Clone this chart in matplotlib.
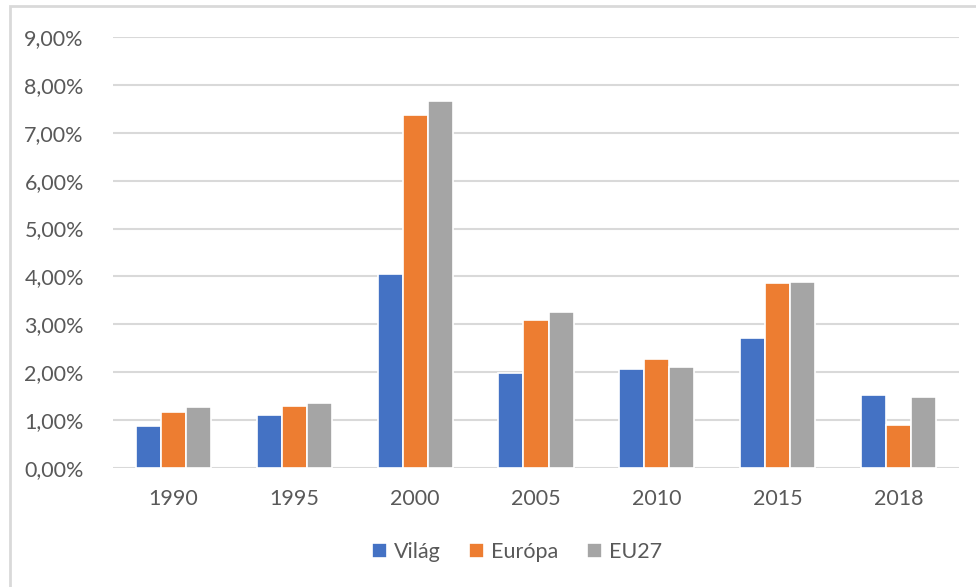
import matplotlib
matplotlib.use('Agg')
from matplotlib import pyplot as plt
from matplotlib.patches import Rectangle
from matplotlib.ticker import FuncFormatter
import numpy as np

years = ['1990', '1995', '2000', '2005', '2010', '2015', '2018']
vilag = [0.88, 1.10, 4.05, 1.98, 2.06, 2.71, 1.52]
europa = [1.16, 1.29, 7.37, 3.09, 2.27, 3.86, 0.89]
eu27 = [1.27, 1.36, 7.67, 3.26, 2.11, 3.88, 1.49]

series = [('Világ', vilag, '#4472C4'),
          ('Európa', europa, '#ED7D31'),
          ('EU27', eu27, '#A5A5A5')]

plt.rcParams['font.family'] = ['Lato', 'DejaVu Sans']
text_color = '#595959'

fig = plt.figure(figsize=(9.76, 5.87), dpi=100)
ax = fig.add_axes([113 / 976, 1 - 468 / 587, (959 - 113) / 976, (468 - 37) / 587])

# chart area border (cut off at right and bottom in the reference)
fig.patches.append(Rectangle((10 / 976, -0.1), 1.2, 1.1 - 6 / 587,
                             transform=fig.transFigure, fill=False,
                             edgecolor='#D9D9D9', linewidth=2))

x = np.arange(len(years))
w = 0.207
for i, (name, vals, col) in enumerate(series):
    ax.bar(x + (i - 1) * w, vals, width=w, color=col, edgecolor='white',
           linewidth=1.2, label=name, zorder=3)

ax.set_xlim(-0.5, len(years) - 0.5)
ax.set_ylim(0, 9)
ax.set_yticks(np.arange(0, 10, 1))
ax.yaxis.set_major_formatter(FuncFormatter(lambda v, p: ('%.2f%%' % v).replace('.', ',')))
ax.set_xticks(x)
ax.set_xticklabels(years)
ax.grid(axis='y', color='#D9D9D9', linewidth=1.5, zorder=0)
for s in ax.spines.values():
    s.set_visible(False)
ax.tick_params(length=0, labelsize=15.5, colors=text_color)
ax.tick_params(axis='y', pad=21)
ax.tick_params(axis='x', pad=15)

leg = fig.legend(loc='center', bbox_to_anchor=(517 / 976, 1 - 552 / 587), ncol=3,
                 frameon=False, fontsize=15.5, handlelength=0.7, handleheight=0.7,
                 handletextpad=0.35, columnspacing=1.3)
for t in leg.get_texts():
    t.set_color(text_color)

fig.savefig('out.png', dpi=100)
